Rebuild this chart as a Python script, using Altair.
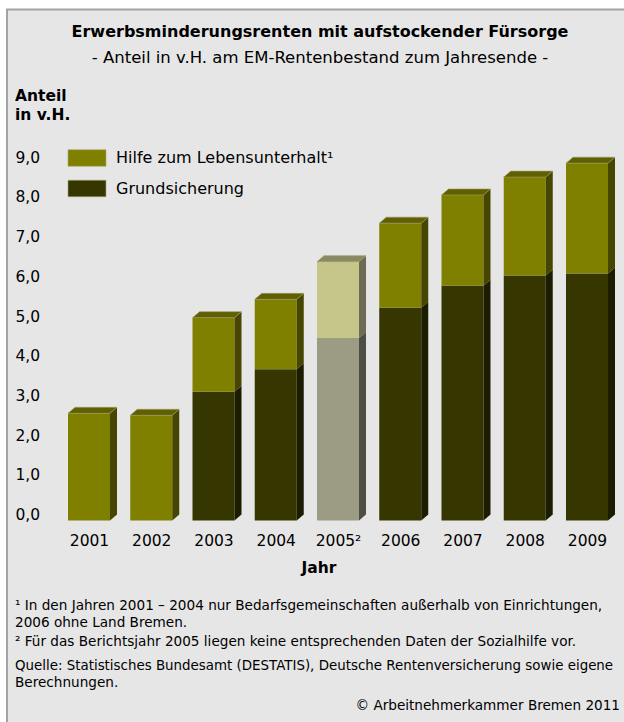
import altair as alt
import pandas as pd

# ---------------- data ----------------
years = [2001, 2002, 2003, 2004, 2005, 2006, 2007, 2008, 2009]
grundsicherung = [0.0, 0.0, 3.24, 3.81, 4.60, 5.36, 5.91, 6.17, 6.22]
hilfe_lu = [2.70, 2.65, 1.87, 1.76, 1.92, 2.13, 2.29, 2.48, 2.78]
y_ticks = [0, 1, 2, 3, 4, 5, 6, 7, 8, 9]
series_names = ["Hilfe zum Lebensunterhalt\u00b9", "Grundsicherung"]

# ---------------- styling / geometry ----------------
FONT = "DejaVu Sans"
PX_PER_YEAR = 62.25
PX_PER_UNIT = 39.7
BAR_PX = 42
DEPTH_X = 7
DEPTH_Y = 6

# plot-area placement on the 624 x 722 page
X0, X1 = 2000.4, 2009.55
L = 89 - (2001 - X0) * PX_PER_YEAR
W = (X1 - X0) * PX_PER_YEAR
H = 9 * PX_PER_UNIT
T = 520.5 - H
R = 624 - L - W
B = 722 - T - H

hw = BAR_PX / 2 / PX_PER_YEAR
dx = DEPTH_X / PX_PER_YEAR
dy = DEPTH_Y / PX_PER_UNIT

COL = {
    "hilfe": {"front": "#808000", "side": "#464600", "top": "#606000"},
    "grund": {"front": "#363600", "side": "#1c1c00", "top": "#2a2a00"},
    "hilfe05": {"front": "#c6c68a", "side": "#6c6c55", "top": "#8a8a62"},
    "grund05": {"front": "#9c9c84", "side": "#4e4e44", "top": "#6a6a5a"},
}

front_rows, side_rows, top_rows = [], [], []
for yr, g, h in zip(years, grundsicherung, hilfe_lu):
    segs = []
    if g > 0:
        segs.append(("grund", 0.0, g))
    segs.append(("hilfe", g, g + h))
    for k, (name, lo, hi) in enumerate(segs):
        key = name + ("05" if yr == 2005 else "")
        c = COL[key]
        fid = f"{yr}-{name}"
        front_rows.append({"x": yr - hw, "x2": yr + hw, "y": lo, "y2": hi, "fill": c["front"]})
        side_rows.append({"id": fid, "x": yr + hw, "y": lo, "y2": hi, "fill": c["side"]})
        side_rows.append({"id": fid, "x": yr + hw + dx, "y": lo + dy, "y2": hi + dy, "fill": c["side"]})
        if k == len(segs) - 1:
            top_rows.append({"id": fid, "y": hi, "x": yr - hw, "x2": yr + hw, "fill": c["top"]})
            top_rows.append({"id": fid, "y": hi + dy, "x": yr - hw + dx, "x2": yr + hw + dx, "fill": c["top"]})

front_df = pd.DataFrame(front_rows)
side_df = pd.DataFrame(side_rows)
top_df = pd.DataFrame(top_rows)

xs = alt.Scale(domain=[X0, X1], nice=False, zero=False)
ys = alt.Scale(domain=[0, 9], nice=False, zero=False)

xaxis = alt.Axis(
    values=years, format="d",
    labelExpr="datum.value == 2005 ? '2005\u00b2' : datum.label",
    ticks=False, domain=False, grid=False, labelPadding=13,
    labelFontSize=15.5, labelFont=FONT, labelColor="#000",
    labelFlush=False, labelOverlap=False, title=None, zindex=2,
)
yaxis = alt.Axis(
    values=y_ticks,
    labelExpr="replace(format(datum.value, '.1f'), '.', ',')",
    labelAlign="left", labelBaseline="middle", labelPadding=L - 15,
    ticks=False, domain=False, grid=False, labelOffset=-6,
    labelFontSize=15.5, labelFont=FONT, labelColor="#000",
    labelFlush=False, labelOverlap=False, title=None, zindex=2,
)

one = pd.DataFrame({"a": [0]})


def px(x):
    return x - L


def py(y):
    return y - T


def text(t, x, y, size, weight="normal", align="left"):
    return alt.Chart(one).mark_text(
        text=t, align=align, baseline="middle", fontSize=size,
        fontWeight=weight, font=FONT, color="#000",
    ).encode(x=alt.value(px(x)), y=alt.value(py(y)))


background = alt.Chart(one).mark_rect(
    fill="#e6e6e6", stroke="#a3a3a3", strokeWidth=2
).encode(
    x=alt.value(px(7)), x2=alt.value(px(760)),
    y=alt.value(py(9.5)), y2=alt.value(py(800)),
)

front = alt.Chart(front_df).mark_rect(opacity=1).encode(
    x=alt.X("x:Q", scale=xs, axis=xaxis),
    x2="x2:Q",
    y=alt.Y("y:Q", scale=ys, axis=yaxis),
    y2="y2:Q",
    fill=alt.Fill("fill:N", scale=None),
)

side = alt.Chart(side_df).mark_area(orient="vertical", opacity=1).encode(
    x=alt.X("x:Q", scale=xs, axis=xaxis),
    y=alt.Y("y:Q", scale=ys, axis=yaxis, stack=None),
    y2="y2:Q",
    fill=alt.Fill("fill:N", scale=None),
    detail="id:N",
)

top = alt.Chart(top_df).mark_area(
    orient="horizontal", opacity=1, stroke="#9c9c6c", strokeWidth=0.6
).encode(
    y=alt.Y("y:Q", scale=ys, axis=yaxis),
    x=alt.X("x:Q", scale=xs, axis=xaxis, stack=None),
    x2="x2:Q",
    fill=alt.Fill("fill:N", scale=None),
    detail="id:N",
)

# legend (manual, as in the reference)
leg_colors = [COL["hilfe"]["front"], COL["grund"]["front"]]
leg_y = [158, 188.5]
legend_layers = []
for name, col, yc in zip(series_names, leg_colors, leg_y):
    legend_layers.append(
        alt.Chart(one).mark_rect(fill=col, stroke="#a8a87a", strokeWidth=0.6).encode(
            x=alt.value(px(68)), x2=alt.value(px(106)),
            y=alt.value(py(yc - 8.3)), y2=alt.value(py(yc + 8.3)),
        )
    )
    legend_layers.append(text(name, 116, yc, 16))

FN = 13.6
texts = [
    text("Erwerbsminderungsrenten mit aufstockender F\u00fcrsorge", 320, 32, 16, "bold", "center"),
    text("- Anteil in v.H. am EM-Rentenbestand zum Jahresende -", 320, 58, 16.5, "normal", "center"),
    text("Anteil", 15, 96, 15.5, "bold"),
    text("in v.H.", 15, 115, 15.5, "bold"),
    text("Jahr", 319, 568, 15.5, "bold", "center"),
    text("\u00b9 In den Jahren 2001 \u2013 2004 nur Bedarfsgemeinschaften au\u00dferhalb von Einrichtungen,", 15, 606, FN),
    text("2006 ohne Land Bremen.", 15, 623, FN),
    text("\u00b2 F\u00fcr das Berichtsjahr 2005 liegen keine entsprechenden Daten der Sozialhilfe vor.", 15, 642, FN),
    text("Quelle: Statistisches Bundesamt (DESTATIS), Deutsche Rentenversicherung sowie eigene", 15, 666, 13.4),
    text("Berechnungen.", 15, 683, FN),
    text("\u00a9 Arbeitnehmerkammer Bremen 2011", 620, 706, FN, "normal", "right"),
]

chart = alt.layer(
    background, front, side, top, *legend_layers, *texts
).properties(
    width=W, height=H,
    autosize="none",
    padding={"left": L, "top": T, "right": R, "bottom": B},
    background="#ffffff",
).configure_view(stroke=None)

chart.save("out.html", embed_options={"renderer": "svg", "actions": False})
